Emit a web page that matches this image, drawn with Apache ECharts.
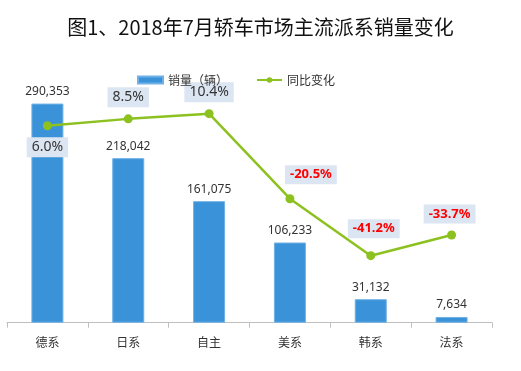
<!DOCTYPE html>
<html><head><meta charset="utf-8">
<script src="https://cdn.jsdelivr.net/npm/echarts@6/dist/echarts.min.js"></script>
<style>html,body{margin:0;padding:0;background:#fff}#c{width:521px;height:371px}</style>
</head><body><div id="c"></div>
<script>
const categories = ['德系','日系','自主','美系','韩系','法系'];
const sales = [290353, 218042, 161075, 106233, 31132, 7634];
const yoy = [6.0, 8.5, 10.4, -20.5, -41.2, -33.7];
const titleText = '图1、2018年7月轿车市场主流派系销量变化';
const salesName = '销量（辆）';
const yoyName = '同比变化';

const labelPos = ['bottom', 'top', 'top', 'top', 'top', 'top'];
const labelOffsets = [[0, 0], [0, 0], [0, 0], [21, -3], [3, -6], [-2, 0]];
const chart = echarts.init(document.getElementById('c'));
chart.setOption({
  animation: false,
  title: {text: titleText, left: 'center', top: 12,
    textStyle: {fontSize: 20, fontWeight: 'normal', color: '#111', fontFamily: 'Noto Sans CJK SC'}},
  legend: {top: 69, left: 132, itemGap: 28, itemWidth: 25, itemHeight: 7,
    textStyle: {fontSize: 12, color: '#333', fontFamily: 'Noto Sans CJK SC'},
    data: [{name: salesName, icon: 'rect'}, {name: yoyName}]},
  grid: {left: 7, right: 29, top: 96.3, bottom: 48.3},
  xAxis: {type: 'category', data: categories,
    axisLine: {lineStyle: {color: '#bfbfbf', width: 1}},
    axisTick: {show: true, length: 5, lineStyle: {color: '#bfbfbf'}},
    axisLabel: {fontSize: 12, color: '#333', margin: 14, fontFamily: 'Noto Sans CJK SC'}},
  yAxis: [
    {type: 'value', min: 0, max: 300000, show: false, splitLine: {show: false}},
    {type: 'value', min: -65.55, max: 16.7, show: false, splitLine: {show: false}}
  ],
  series: [
    {name: salesName, type: 'bar', data: sales, barWidth: 32,
      itemStyle: {color: '#3a93d8', borderColor: '#6fb1e6', borderWidth: 1},
      label: {show: true, position: 'top', distance: 6, fontSize: 12, color: '#333',
        fontFamily: 'Noto Sans, Noto Sans CJK SC',
        formatter: p => p.value.toLocaleString('en-US')}},
    {name: yoyName, type: 'line', yAxisIndex: 1, symbol: 'circle', symbolSize: 9,
      lineStyle: {color: '#8cc11f', width: 2.5}, itemStyle: {color: '#8cc11f'},
      data: yoy.map((v, i) => ({value: v,
        label: {position: labelPos[i], offset: labelOffsets[i],
          color: v < 0 ? '#ff0000' : '#333',
          fontWeight: v < 0 ? 'bold' : 'normal',
          fontSize: v < 0 ? 13 : 14,
          letterSpacing: v < 0 ? -0.5 : 0}})),
      label: {show: true, distance: 7, fontFamily: 'Noto Sans',
        backgroundColor: '#dce6f2', padding: [3, 5, 3, 5],
        formatter: p => p.value.toFixed(1) + '%'}}
  ]
});
</script></body></html>
